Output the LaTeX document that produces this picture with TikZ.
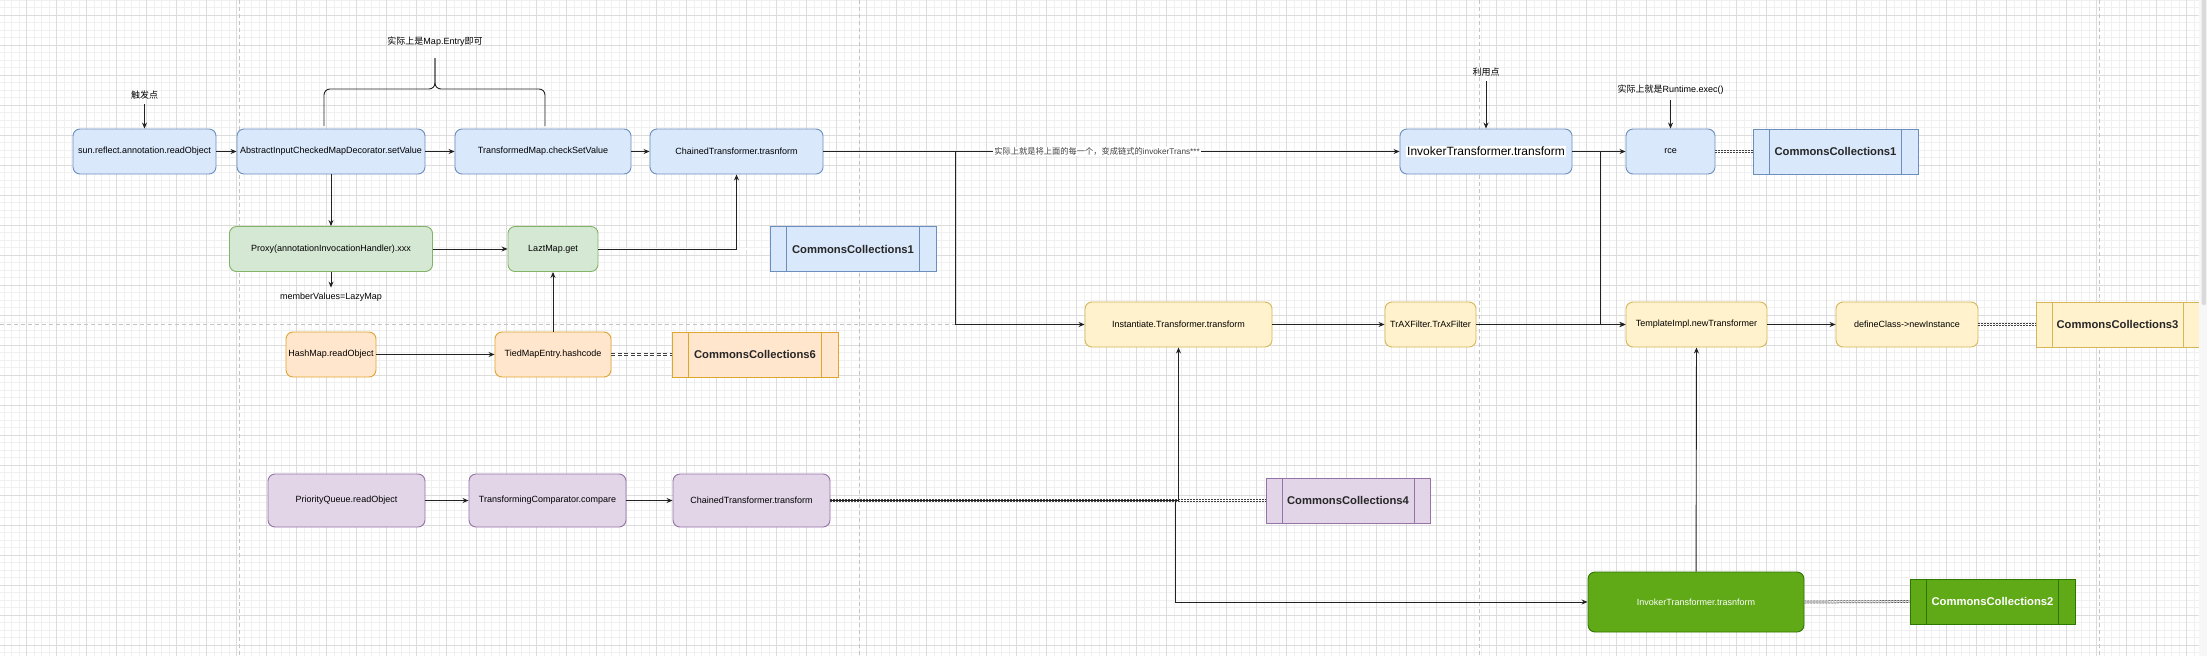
\documentclass[tikz,border=0pt]{standalone}
\usepackage{fontspec}
\setmainfont{Liberation Sans}
\newfontfamily\cjk{Noto Sans CJK SC}
\usetikzlibrary{arrows.meta,calc}
\definecolor{bfill}{HTML}{DAE8FC}\definecolor{bdraw}{HTML}{6C8EBF}
\definecolor{gfill}{HTML}{D5E8D4}\definecolor{gdraw}{HTML}{82B366}
\definecolor{ofill}{HTML}{FFE6CC}\definecolor{odraw}{HTML}{E0A530}
\definecolor{yfill}{HTML}{FFF2CC}\definecolor{ydraw}{HTML}{D6B656}
\definecolor{pfill}{HTML}{E1D5E7}\definecolor{pdraw}{HTML}{9673A6}
\definecolor{dgfill}{HTML}{60A917}\definecolor{dgdraw}{HTML}{2D7600}
\definecolor{majgrid}{HTML}{DCDCDC}\definecolor{mingrid}{HTML}{F0F0F0}
\definecolor{pagebrk}{HTML}{C4C4C4}
\definecolor{linkcol}{HTML}{404040}
\definecolor{edgecol}{HTML}{222222}
\definecolor{scrolltrack}{HTML}{F7F7F7}
\definecolor{scrollthumb}{HTML}{DADADA}
\newcommand\procbars[2]{\draw[#2,line width=0.9pt] ($(#1.north west)!0.1!(#1.north east)$) -- ($(#1.south west)!0.1!(#1.south east)$) ($(#1.north east)!0.1!(#1.north west)$) -- ($(#1.south east)!0.1!(#1.south west)$);}
\tikzset{
  boxbase/.style={rectangle, rounded corners=7pt, line width=0.9pt, inner sep=0pt, align=center,
    font=\fontsize{9pt}{11pt}\selectfont, text=black},
  bluebox/.style={boxbase, draw=bdraw, fill=bfill},
  greenbox/.style={boxbase, draw=gdraw, fill=gfill},
  orangebox/.style={boxbase, draw=odraw, fill=ofill},
  yellowbox/.style={boxbase, draw=ydraw, fill=yfill},
  purplebox/.style={boxbase, draw=pdraw, fill=pfill},
  darkbox/.style={boxbase, draw=dgdraw, fill=dgfill, text=white},
  ccbox/.style={rectangle, line width=0.9pt, inner sep=0pt, minimum height=45pt,
    font=\bfseries\fontsize{11.25pt}{13pt}\selectfont, text=black!85},
  arr/.style={draw=edgecol, line width=0.9pt, -{Stealth[length=6pt,width=5pt]}},
  linkline/.style={draw=linkcol, line width=0.75pt, double=white, double distance=1.3pt, dash pattern=on 2pt off 1pt},
  note/.style={font=\fontsize{9pt}{11pt}\selectfont, inner sep=5pt, text=black},
  edgelabel/.style={font=\fontsize{8.25pt}{10pt}\selectfont, fill=white, inner sep=1pt, text=black!75},
  majorline/.style={draw=majgrid, line width=0.9pt},
  minorline/.style={draw=mingrid, line width=0.8pt},
  pagebreak/.style={draw=pagebrk, line width=1pt, dash pattern=on 4pt off 3pt},
}
\begin{document}
\begin{tikzpicture}[x=1pt,y=-1pt]
\useasboundingbox (0,0) rectangle (2207,656);
\fill[white] (0,0) rectangle (2207,656);
% grid
\foreach \i in {0,...,294} \draw[minorline] ({4.1667+7.5*\i},0) -- ++(0,656);
\foreach \i in {0,...,87} \draw[minorline] (0,{7.5*\i}) -- ++(2207,0);
\foreach \i in {0,...,72} \draw[majorline] ({26.667+30*\i},0) -- ++(0,656);
\foreach \i in {0,...,21} \draw[majorline] (0,{15+30*\i}) -- ++(2207,0);
% page breaks
\foreach \x in {239,859,1479,2099} \draw[pagebreak] (\x,0) -- (\x,656);
\draw[pagebreak] (0,324) -- (2207,324);

% top row
\node[bluebox, minimum width=143pt, minimum height=45pt] (n1) at (144.5,151.5) {sun.reflect.annotation.readObject};
\node[bluebox, minimum width=188pt, minimum height=45pt] (n2) at (331,151.5) {AbstractInputCheckedMapDecorator.setValue};
\node[bluebox, minimum width=176pt, minimum height=45pt] (n3) at (543,151.5) {TransformedMap.checkSetValue};
\node[bluebox, minimum width=173pt, minimum height=45pt] (n4) at (736.5,151.5) {ChainedTransformer.trasnform};
\node[bluebox, minimum width=172pt, minimum height=45pt, font=\fontsize{12pt}{14pt}\selectfont] (n5) at (1486,151.5) {{\fboxsep=1pt\colorbox{white}{InvokerTransformer.transform}}};
\node[bluebox, minimum width=89pt, minimum height=45pt] (n6) at (1670.5,151.5) {rce};
\node[ccbox, draw=bdraw, fill=bfill, minimum width=165pt] (cc1a) at (1835.5,151.5) {CommonsCollections1};
\procbars{cc1a}{bdraw}

% second row
\node[greenbox, minimum width=203pt, minimum height=45pt] (proxy) at (331,249) {Proxy(annotationInvocationHandler).xxx};
\node[greenbox, minimum width=90pt, minimum height=45pt] (lazy) at (553,249) {LaztMap.get};
\node[ccbox, draw=bdraw, fill=bfill, minimum width=166pt] (cc1b) at (853,249) {CommonsCollections1};
\procbars{cc1b}{bdraw}

% yellow row
\node[yellowbox, minimum width=187pt, minimum height=45pt] (inst) at (1178.5,324.5) {Instantiate.Transformer.transform};
\node[yellowbox, minimum width=91pt, minimum height=45pt] (trax) at (1430.5,324.5) {TrAXFilter.TrAxFilter};
\node[yellowbox, minimum width=141pt, minimum height=45pt] (tmpl) at (1696.5,324.5) {TemplateImpl.newTransformer};
\node[yellowbox, minimum width=142pt, minimum height=45pt] (defc) at (1907,324.5) {defineClass-\textgreater newInstance};
\node[ccbox, draw=ydraw, fill=yfill, minimum width=163pt] (cc3) at (2117.5,324.5) {CommonsCollections3};
\procbars{cc3}{ydraw}

% orange row
\node[orangebox, minimum width=90pt, minimum height=45pt] (hashmap) at (331,354.5) {HashMap.readObject};
\node[orangebox, minimum width=116pt, minimum height=45pt] (tied) at (553,354.5) {TiedMapEntry.hashcode};
\node[ccbox, draw=odraw, fill=ofill, minimum width=166pt] (cc6) at (755,354.5) {CommonsCollections6};
\procbars{cc6}{odraw}

% purple row
\node[purplebox, minimum width=157pt, minimum height=53pt] (pq) at (346.5,500.5) {PriorityQueue.readObject};
\node[purplebox, minimum width=157pt, minimum height=53pt] (tc) at (547.5,500.5) {TransformingComparator.compare};
\node[purplebox, minimum width=157pt, minimum height=53pt] (ct2) at (751.5,500.5) {ChainedTransformer.transform};
\node[ccbox, draw=pdraw, fill=pfill, minimum width=164pt] (cc4) at (1348,500.5) {CommonsCollections4};
\procbars{cc4}{pdraw}

% green row
\node[darkbox, minimum width=216pt, minimum height=60pt] (inv2) at (1696,602) {InvokerTransformer.trasnform};
\node[ccbox, draw=dgdraw, fill=dgfill, text=white, minimum width=165pt] (cc2) at (1992.5,601.5) {CommonsCollections2};
\procbars{cc2}{dgdraw}

% notes
\node[note] (trig) at (144.5,95) {\cjk 触发点};
\node[note] (bracel) at (435,42) {{\cjk 实际上是}Map.Entry{\cjk 即可}};
\node[note] (util) at (1486,72) {\cjk 利用点};
\node[note] (rcel) at (1670.5,90) {{\cjk 实际上就是}Runtime.exec()};
\node[note] (mv) at (331,297) {memberValues=LazyMap};

% brace
\draw[edgecol, line width=0.9pt, rounded corners=6pt] (324,126) -- (324,89) -- (435,89) -- (435,58);
\draw[edgecol, line width=0.9pt, rounded corners=6pt] (545,126) -- (545,89) -- (435,89) -- (435,58);

% link (double dashed) connectors
\draw[linkline] (n6.east) -- (cc1a.west);
\draw[linkline] (lazy.east) -- (cc1b.west);
\draw[linkline, dash pattern=on 4pt off 2.5pt] (tied.east) -- (cc6.west);
\draw[linkline] (defc.east) -- (cc3.west);
\draw[linkline] (ct2.east) -- (cc4.west);
\draw[linkline] (inv2.east) -- (cc2.west);

% arrows
\draw[arr] (trig) -- (n1);
\draw[arr] (n1) -- (n2);
\draw[arr] (n2) -- (n3);
\draw[arr] (n3) -- (n4);
\draw[arr] (n4) -- node[edgelabel, pos=0.475] {{\cjk 实际上就是将上面的每一个，变成链式的}invokerTrans***} (n5);
\draw[arr] (n4.east) -- ++(132,0) |- (inst.west);
\draw[arr] (n5) -- (n6);
\draw[arr] (n5.east) -- ++(28,0) |- (tmpl.west);
\draw[arr] (util) -- (n5);
\draw[arr] (rcel) -- (n6);
\draw[arr] (n2) -- (proxy);
\draw[arr] (proxy) -- (lazy);
\draw[arr] (proxy) -- (mv);
\draw[arr] (lazy.east) -| (n4.south);
\draw[arr] (tied) -- (lazy);
\draw[arr] (hashmap) -- (tied);
\draw[arr] (inst) -- (trax);
\draw[arr] (trax) -- (tmpl);
\draw[arr] (tmpl) -- (defc);
\draw[arr] (pq) -- (tc);
\draw[arr] (tc) -- (ct2);
\draw[arr] (ct2.east) -| (inst.south);
\draw[arr] (ct2.east) -- ++(344.5,0) |- (inv2.west);
\draw[arr] (inv2) -- (tmpl);

% scrollbar at the right edge
\fill[scrolltrack] (2199.3,0) rectangle (2207,656);
\fill[scrollthumb, rounded corners=2pt] (2201.5,-3) rectangle (2206,305);
\end{tikzpicture}
\end{document}
